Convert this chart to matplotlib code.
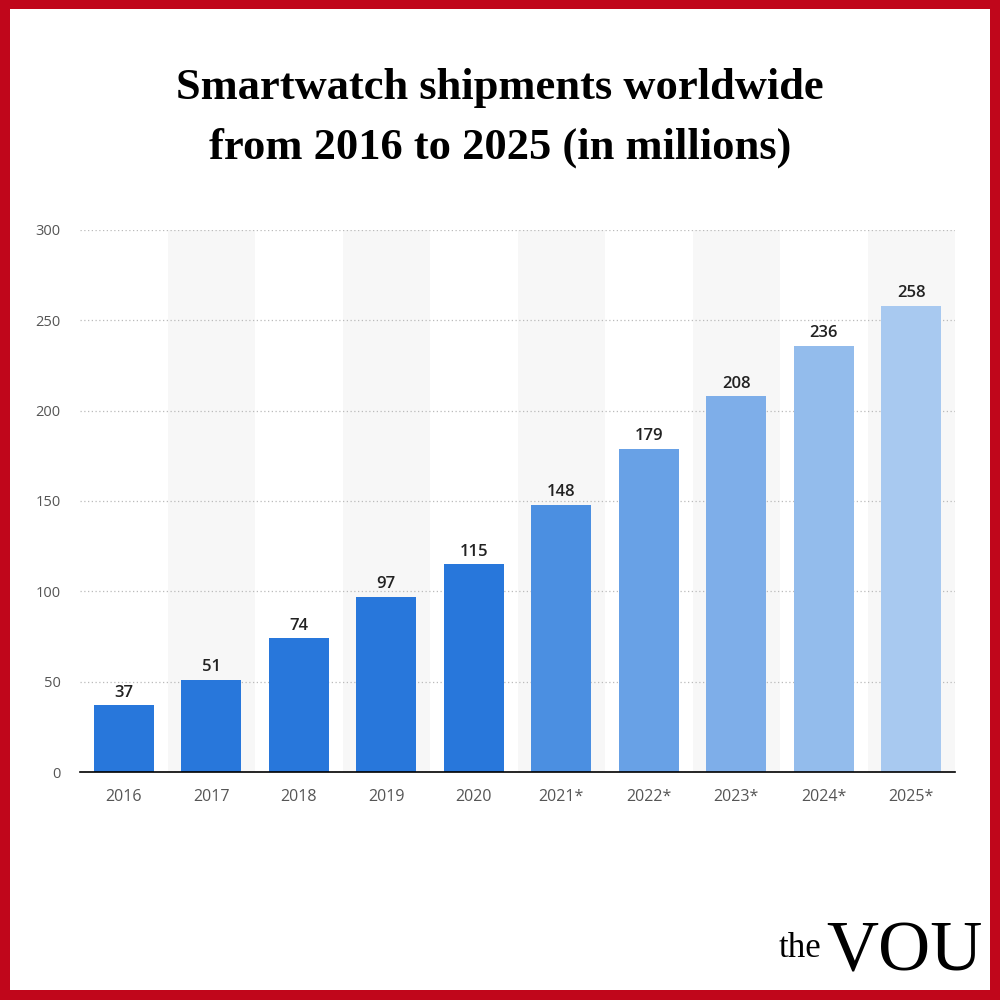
import matplotlib.pyplot as plt
from matplotlib.patches import Rectangle

# Data
years = ['2016', '2017', '2018', '2019', '2020', '2021*', '2022*', '2023*', '2024*', '2025*']
shipments = [37, 51, 74, 97, 115, 148, 179, 208, 236, 258]
bar_colors = ['#2877db', '#2877db', '#2877db', '#2877db', '#2877db',
              '#4b8fe1', '#68a1e6', '#7eaee9', '#93bcec', '#a8c9f0']
y_ticks = [0, 50, 100, 150, 200, 250, 300]

plt.rcParams['font.family'] = ['Open Sans', 'DejaVu Sans']

fig = plt.figure(figsize=(10, 10), dpi=100)
fig.patch.set_facecolor('white')

# red frame
red = '#c0061b'
for x, y, w, h in [(0, 0, 0.01, 1), (0.99, 0, 0.01, 1), (0, 0.991, 1, 0.009), (0, 0, 1, 0.01)]:
    fig.patches.append(Rectangle((x, y), w, h, transform=fig.transFigure,
                                 facecolor=red, edgecolor='none', zorder=10))

# title
fig.text(0.5, 0.882, 'Smartwatch shipments worldwide\nfrom 2016 to 2025 (in millions)',
         ha='center', va='center', fontsize=32, fontweight='bold',
         family='Liberation Serif', linespacing=1.6, color='black')

ax = fig.add_axes([0.08, 0.228, 0.875, 0.542])
x = list(range(len(years)))

# alternating column shading
for i in x:
    if i % 2 == 1:
        ax.axvspan(i - 0.5, i + 0.5, color='#f7f7f7', zorder=0, lw=0)

ax.bar(x, shipments, width=0.69, color=bar_colors, zorder=3)

for i, val in enumerate(shipments):
    ax.text(i, val + 2.5, str(val), ha='center', va='bottom', fontsize=12,
            color='#222222', fontweight='semibold', zorder=4)

ax.set_xlim(-0.5, len(years) - 0.5)
ax.set_ylim(0, 300)
ax.set_yticks(y_ticks)
ax.set_xticks(x)
ax.set_xticklabels(years)
ax.tick_params(axis='both', length=0, colors='#555555')
ax.tick_params(axis='x', pad=12, labelsize=11.5)
ax.tick_params(axis='y', pad=14, labelsize=10.5)
ax.grid(axis='y', linestyle=(0, (1, 2)), color='#bbbbbb', linewidth=0.9, zorder=1)
ax.set_axisbelow(True)
for s in ['top', 'right', 'left']:
    ax.spines[s].set_visible(False)
ax.spines['bottom'].set_color('black')
ax.spines['bottom'].set_linewidth(1.2)
ax.spines['bottom'].set_zorder(5)

# logo
fig.text(0.779, 0.043, 'the', fontsize=25, family='Liberation Serif', color='black',
         ha='left', va='baseline')
fig.text(0.826, 0.030, 'VOU', fontsize=52, family='Liberation Serif', color='black',
         ha='left', va='baseline')

fig.savefig('out.png', dpi=100, facecolor='white')
